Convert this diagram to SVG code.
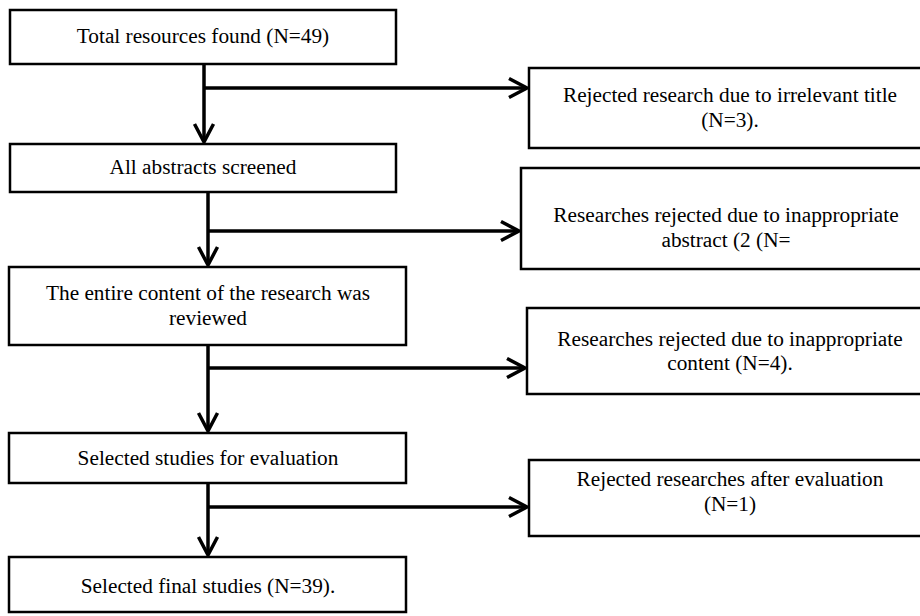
<svg xmlns="http://www.w3.org/2000/svg" width="920" height="616" viewBox="0 0 920 616">
<style>
.box{fill:#fff;stroke:#000;stroke-width:2.5}
.t{font-family:"Liberation Serif","Times New Roman",serif;font-size:21.3px;fill:#000;text-anchor:middle}
.c{fill:none;stroke:#000;stroke-width:3.5;marker-end:url(#ah)}
</style>
<defs>
<marker id="ah" markerUnits="userSpaceOnUse" viewBox="0 0 20 22" refX="19" refY="11" markerWidth="20" markerHeight="22" orient="auto" overflow="visible">
<path d="M1,1.5 L19,11 L1,20.5" fill="none" stroke="#000" stroke-width="3.5"/>
</marker>
</defs>
<rect width="920" height="616" fill="#fff"/>
<g id="connectors">
<line class="c" x1="204" y1="64" x2="204" y2="142"/>
<line class="c" x1="204" y1="88" x2="527" y2="88"/>
<line class="c" x1="208" y1="192" x2="208" y2="265"/>
<line class="c" x1="208" y1="231" x2="519" y2="231"/>
<line class="c" x1="208" y1="345" x2="208" y2="431"/>
<line class="c" x1="208" y1="368" x2="525" y2="368"/>
<line class="c" x1="208" y1="483" x2="208" y2="555"/>
<line class="c" x1="208" y1="507" x2="527" y2="507"/>
</g>
<g id="n1"><rect class="box" x="10" y="10" width="386" height="54"/><text class="t" x="203" y="43">Total resources found (N=49)</text></g>
<g id="n2"><rect class="box" x="10" y="144" width="386" height="48"/><text class="t" x="203" y="174">All abstracts screened</text></g>
<g id="n3"><rect class="box" x="9" y="267" width="397" height="78"/><text class="t" x="208" y="300">The entire content of the research was</text><text class="t" x="208" y="325">reviewed</text></g>
<g id="n4"><rect class="box" x="9" y="433" width="397" height="50"/><text class="t" x="208" y="465">Selected studies for evaluation</text></g>
<g id="n5"><rect class="box" x="9" y="557" width="397" height="55"/><text class="t" x="208" y="593">Selected final studies (N=39).</text></g>
<g id="r1"><rect class="box" x="529" y="68" width="403" height="80"/><text class="t" x="730" y="102">Rejected research due to irrelevant title</text><text class="t" x="730" y="127">(N=3).</text></g>
<g id="r2"><rect class="box" x="521" y="168" width="410" height="101"/><text class="t" x="726" y="222">Researches rejected due to inappropriate</text><text class="t" x="726" y="247">abstract (2 (N=</text></g>
<g id="r3"><rect class="box" x="527" y="308" width="405" height="86"/><text class="t" x="730" y="346">Researches rejected due to inappropriate</text><text class="t" x="730" y="370">content (N=4).</text></g>
<g id="r4"><rect class="box" x="529" y="460" width="403" height="76"/><text class="t" x="730" y="486">Rejected researches after evaluation</text><text class="t" x="730" y="511">(N=1)</text></g>
</svg>
